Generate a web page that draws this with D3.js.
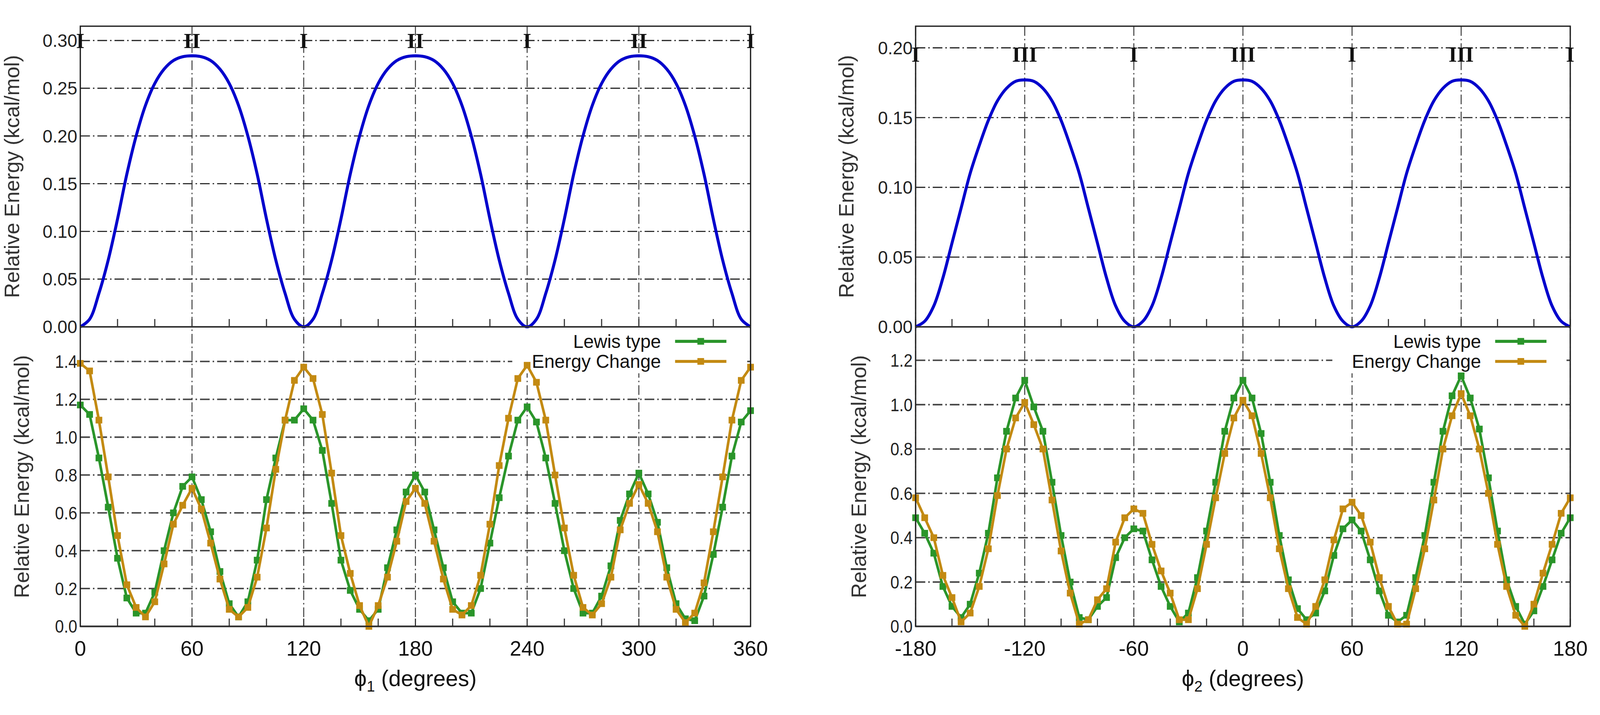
<!DOCTYPE html>
<html><head><meta charset="utf-8">
<script src="https://cdn.jsdelivr.net/npm/d3@7"></script>
<style>html,body{margin:0;padding:0;background:#fff;overflow:hidden}svg{display:block;width:100vw;height:100vh}</style>
</head><body>
<svg id="c" viewBox="0 0 4304 1831" preserveAspectRatio="xMidYMid meet"></svg>
<script>
// ---- data ----
const phi1 = d3.range(0, 361, 5);
const phi2 = d3.range(-180, 181, 5);
const blue1 = [0,0.008,0.035,0.07,0.113,0.16,0.2,0.232,0.255,0.27,0.279,0.283,0.284,0.283,0.279,0.27,0.255,0.232,0.2,0.16,0.113,0.07,0.035,0.008,
 0,0.008,0.035,0.07,0.113,0.16,0.2,0.232,0.255,0.27,0.279,0.283,0.284,0.283,0.279,0.27,0.255,0.232,0.2,0.16,0.113,0.07,0.035,0.008,
 0,0.008,0.035,0.07,0.113,0.16,0.2,0.232,0.255,0.27,0.279,0.283,0.284,0.283,0.279,0.27,0.255,0.232,0.2,0.16,0.113,0.07,0.035,0.008,0];
const blue2 = [0,0.004,0.015,0.035,0.06,0.085,0.11,0.13,0.148,0.162,0.171,0.176,0.177,0.176,0.171,0.162,0.148,0.13,0.11,0.085,0.06,0.035,0.015,0.004,
 0,0.004,0.015,0.035,0.06,0.085,0.11,0.13,0.148,0.162,0.171,0.176,0.177,0.176,0.171,0.162,0.148,0.13,0.11,0.085,0.06,0.035,0.015,0.004,
 0,0.004,0.015,0.035,0.06,0.085,0.11,0.13,0.148,0.162,0.171,0.176,0.177,0.176,0.171,0.162,0.148,0.13,0.11,0.085,0.06,0.035,0.015,0.004,0];
const lewis1 = [1.17,1.12,0.89,0.63,0.36,0.15,0.07,0.07,0.18,0.40,0.60,0.74,0.79,0.67,0.50,0.29,0.12,0.05,0.13,0.35,0.67,0.89,1.09,1.09,1.15,1.09,0.93,0.65,0.35,0.19,0.09,0.03,0.09,0.31,0.51,0.71,0.80,0.71,0.51,0.31,0.13,0.07,0.07,0.20,0.44,0.68,0.90,1.09,1.16,1.08,0.89,0.65,0.40,0.20,0.07,0.07,0.16,0.32,0.56,0.70,0.81,0.70,0.55,0.31,0.12,0.04,0.03,0.16,0.38,0.63,0.90,1.08,1.14];
const change1 = [1.39,1.35,1.09,0.79,0.48,0.22,0.10,0.05,0.13,0.33,0.54,0.64,0.73,0.62,0.44,0.25,0.09,0.05,0.10,0.26,0.52,0.83,1.09,1.30,1.37,1.31,1.12,0.81,0.48,0.28,0.11,0.00,0.11,0.26,0.45,0.66,0.73,0.65,0.45,0.25,0.09,0.06,0.11,0.27,0.54,0.85,1.10,1.31,1.38,1.29,1.09,0.80,0.52,0.27,0.10,0.06,0.12,0.26,0.51,0.65,0.75,0.65,0.50,0.26,0.09,0.02,0.07,0.23,0.50,0.79,1.09,1.30,1.37];
const lewis2 = [0.49,0.42,0.33,0.18,0.09,0.04,0.10,0.24,0.42,0.67,0.88,1.03,1.11,0.99,0.88,0.65,0.41,0.20,0.04,0.03,0.09,0.13,0.31,0.40,0.44,0.43,0.30,0.18,0.09,0.02,0.06,0.22,0.43,0.65,0.88,1.03,1.11,1.03,0.87,0.65,0.41,0.21,0.08,0.03,0.06,0.16,0.32,0.44,0.48,0.43,0.30,0.16,0.05,0.02,0.05,0.22,0.41,0.65,0.88,1.04,1.13,1.03,0.89,0.67,0.43,0.21,0.09,0.01,0.07,0.18,0.30,0.42,0.49];
const change2 = [0.58,0.49,0.40,0.23,0.13,0.02,0.06,0.18,0.35,0.59,0.80,0.94,1.01,0.91,0.80,0.57,0.34,0.15,0.01,0.03,0.12,0.17,0.38,0.49,0.53,0.51,0.37,0.25,0.15,0.03,0.03,0.17,0.37,0.58,0.78,0.94,1.02,0.95,0.78,0.58,0.35,0.17,0.04,0.01,0.09,0.21,0.39,0.53,0.56,0.50,0.38,0.22,0.09,0.01,0.01,0.17,0.35,0.57,0.80,0.95,1.05,0.95,0.80,0.60,0.37,0.18,0.05,0.00,0.10,0.24,0.37,0.51,0.58];
const xTicks1 = [0,60,120,180,240,300,360];
const xTicks2 = [-180,-120,-60,0,60,120,180];
const topTicks1 = [0,0.05,0.10,0.15,0.20,0.25,0.30];
const topTicks2 = [0,0.05,0.10,0.15,0.20];
const botTicks1 = [0,0.2,0.4,0.6,0.8,1.0,1.2,1.4];
const botTicks2 = [0,0.2,0.4,0.6,0.8,1.0,1.2];
const conf1 = [[0,"I"],[60,"II"],[120,"I"],[180,"II"],[240,"I"],[300,"II"],[360,"I"]];
const conf2 = [[-180,"I"],[-120,"III"],[-60,"I"],[0,"III"],[60,"I"],[120,"III"],[180,"I"]];
const seriesNames = ["Lewis type","Energy Change"];

const COL = {blue:"#0000cc", green:"#2a952a", orange:"#c38a12"};
const svg = d3.select("#c");
const FONT = "'Liberation Sans', Arial, sans-serif";

function panel(o){
  const g = svg.append("g");
  const x = d3.scaleLinear().domain(o.xd).range([o.x0, o.x1]);
  const yT = d3.scaleLinear().domain([0, o.topMax]).range([833, 24]);
  const yB = d3.scaleLinear().domain([0, o.botMax]).range([1639, 833]);
  const dash = "26,8,4,8";
  o.topTicks.slice(1).forEach(t => g.append("line").attr("x1",o.x0).attr("x2",o.x1).attr("y1",yT(t)).attr("y2",yT(t))
    .attr("stroke","#222").attr("stroke-width",3).attr("stroke-dasharray",dash));
  o.botTicks.forEach(t => g.append("line").attr("x1",o.x0).attr("x2",o.x1).attr("y1",yB(t)).attr("y2",yB(t))
    .attr("stroke", t===0 ? "#bbb":"#444").attr("stroke-width",t===0?6:4).attr("stroke-dasharray",t===0?null:dash));
  o.xTicks.forEach(t => g.append("line").attr("x1",x(t)).attr("x2",x(t)).attr("y1",24).attr("y2",1639)
    .attr("stroke","#333").attr("stroke-width",2.5).attr("stroke-dasharray",dash));
  d3.range(o.xd[0], o.xd[1]+1, 20).forEach(t => {
    g.append("line").attr("x1",x(t)).attr("x2",x(t)).attr("y1",833).attr("y2",812).attr("stroke","#333").attr("stroke-width",3);
    g.append("line").attr("x1",x(t)).attr("x2",x(t)).attr("y1",1639).attr("y2",1618).attr("stroke","#333").attr("stroke-width",3);
  });
  g.append("path").datum(o.blue).attr("fill","none").attr("stroke",COL.blue).attr("stroke-width",8)
    .attr("d", d3.line().x((d,i)=>x(o.xs[i])).y(d=>yT(d)).curve(d3.curveCatmullRom));
  const lx = o.legX;
  g.append("rect").attr("x",lx-400).attr("y",840).attr("width",o.x1-(lx-400)-10).attr("height",118).attr("fill","#fff");
  [[o.lewis,COL.green],[o.change,COL.orange]].forEach(([vals,c]) => {
    g.append("path").datum(vals).attr("fill","none").attr("stroke",c).attr("stroke-width",7).attr("stroke-linejoin","round")
      .attr("d", d3.line().x((d,i)=>x(o.xs[i])).y(d=>yB(d)));
    g.selectAll(null).data(vals).enter().append("rect")
      .attr("x",(d,i)=>x(o.xs[i])-9).attr("y",d=>yB(d)-9).attr("width",18).attr("height",18).attr("fill",c);
  });
  g.append("rect").attr("x",o.x0).attr("y",24).attr("width",o.x1-o.x0).attr("height",1639-24).attr("fill","none").attr("stroke","#222").attr("stroke-width",3.5);
  g.append("line").attr("x1",o.x0).attr("x2",o.x1).attr("y1",833).attr("y2",833).attr("stroke","#333").attr("stroke-width",4);
  o.topTicks.forEach(t => g.append("text").attr("x",o.x0-8).attr("y",yT(t)).attr("dy","0.36em").attr("text-anchor","end")
    .attr("font-family",FONT).attr("font-size",48).attr("fill","#222").text(d3.format(".2f")(t)));
  o.botTicks.forEach(t => g.append("text").attr("x",o.x0-8).attr("y",yB(t)).attr("dy","0.36em").attr("text-anchor","end")
    .attr("font-family",FONT).attr("font-size",48).attr("fill","#222").attr("textLength", 60).attr("lengthAdjust","spacingAndGlyphs").text(d3.format(".1f")(t)));
  o.xTicks.forEach(t => g.append("text").attr("x",x(t)).attr("y",1718).attr("text-anchor","middle")
    .attr("font-family",FONT).attr("font-size",56).attr("fill","#111").text(t));
  o.conf.forEach(([t,l]) => g.append("text").attr("x",x(t)).attr("y",o.confY).attr("dy","0.35em").attr("text-anchor","middle")
    .attr("font-family","'Liberation Serif','DejaVu Serif',serif").attr("font-weight","bold").attr("font-size",58).attr("fill","#111").text(l));
  [[o.tx1,(833+24)/2],[o.tx2,(1639+833)/2]].forEach(([tx,ty]) => g.append("text")
    .attr("transform",`translate(${tx},${ty}) rotate(-90)`).attr("text-anchor","middle")
    .attr("font-family",FONT).attr("font-size",56).attr("fill","#333").text("Relative Energy (kcal/mol)"));
  const xt = g.append("text").attr("x",(o.x0+o.x1)/2).attr("y",1800).attr("text-anchor","middle")
    .attr("font-family",FONT).attr("font-size",60).attr("fill","#111");
  xt.append("tspan").text("\u03d5");
  xt.append("tspan").attr("font-size",40).attr("dy",14).text(o.sub);
  xt.append("tspan").attr("dy",-14).text(" (degrees)");
  [[seriesNames[0],COL.green,872],[seriesNames[1],COL.orange,926]].forEach(([n,c,yy]) => {
    g.append("text").attr("x",lx).attr("y",yy).attr("dy","0.35em").attr("text-anchor","end")
      .attr("font-family",FONT).attr("font-size",50).attr("fill","#111").text(n);
    g.append("line").attr("x1",lx+38).attr("x2",lx+176).attr("y1",yy).attr("y2",yy).attr("stroke",c).attr("stroke-width",8);
    g.append("rect").attr("x",lx+98).attr("y",yy-9).attr("width",18).attr("height",18).attr("fill",c);
  });
}
panel({x0:216,x1:2019,xd:[0,360],xs:phi1,topMax:0.315,botMax:1.583,topTicks:topTicks1,botTicks:botTicks1,xTicks:xTicks1,
  blue:blue1,lewis:lewis1,change:change1,conf:conf1,confY:62,tx1:52,tx2:78,sub:"1",legX:1778});
panel({x0:2463,x1:4224,xd:[-180,180],xs:phi2,topMax:0.2155,botMax:1.351,topTicks:topTicks2,botTicks:botTicks2,xTicks:xTicks2,
  blue:blue2,lewis:lewis2,change:change2,conf:conf2,confY:99,tx1:2296,tx2:2330,sub:"2",legX:3984});
</script>
</body></html>
